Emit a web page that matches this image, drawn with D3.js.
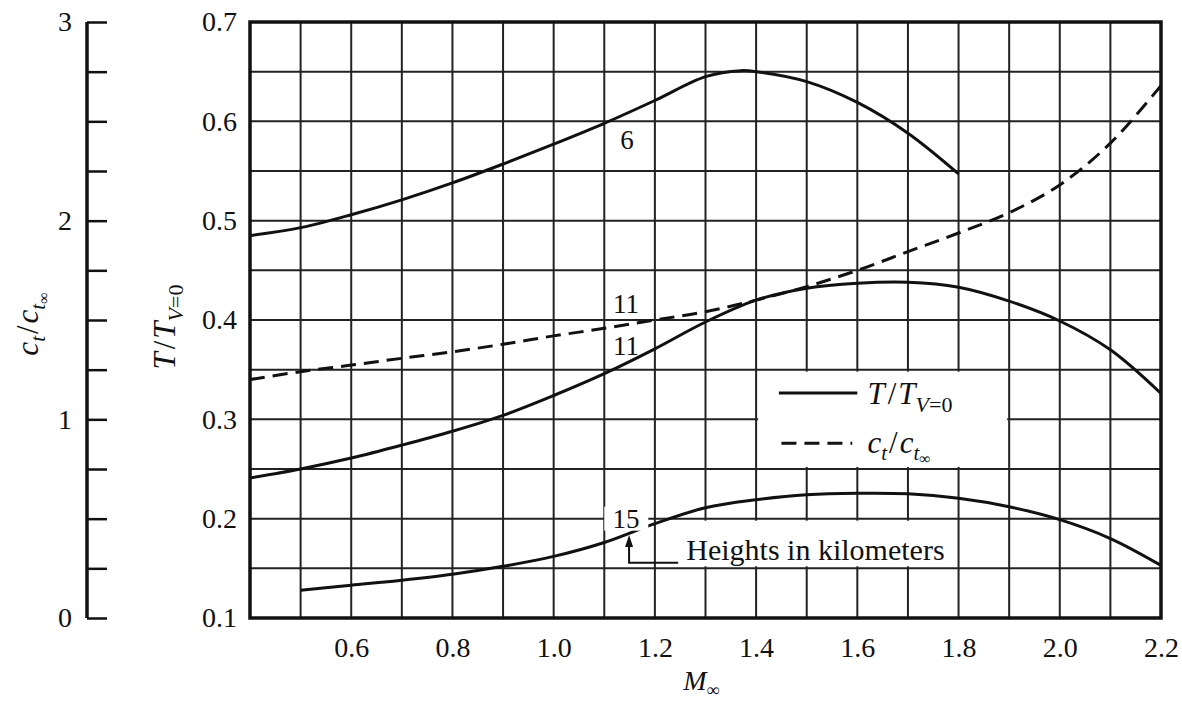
<!DOCTYPE html>
<html>
<head>
<meta charset="utf-8">
<script src="https://cdn.jsdelivr.net/npm/d3@7"></script>
<style>
  body { margin: 0; background: #fff; }
  text { font-family: "Liberation Serif", "Times New Roman", serif; fill: #111; }
</style>
</head>
<body>
<svg id="chart" width="1182" height="703"></svg>
<script>
// Mach numbers and curves
const machAll = [0.4, 0.5, 0.6, 0.7, 0.8, 0.9, 1.0, 1.1, 1.2, 1.3, 1.4, 1.5, 1.6, 1.7, 1.8, 1.9, 2.0, 2.1, 2.2];

// height 6 km, T/T_V=0
const mach6 = [0.4, 0.5, 0.6, 0.7, 0.8, 0.9, 1.0, 1.1, 1.2, 1.3, 1.37, 1.4, 1.5, 1.6, 1.7, 1.8];
const thrust6 = [0.485, 0.493, 0.506, 0.521, 0.538, 0.557, 0.577, 0.598, 0.621, 0.645, 0.651, 0.65, 0.64, 0.619, 0.588, 0.547];

// height 11 km, T/T_V=0
const thrust11 = [0.241, 0.25, 0.261, 0.274, 0.288, 0.304, 0.324, 0.346, 0.371, 0.398, 0.42, 0.432, 0.437, 0.438, 0.433, 0.419, 0.399, 0.37, 0.326];

// height 11 km, c_t / c_t_inf
const ctRatio11 = [1.2, 1.24, 1.273, 1.307, 1.34, 1.378, 1.42, 1.458, 1.5, 1.542, 1.6, 1.668, 1.75, 1.844, 1.938, 2.04, 2.18, 2.39, 2.68];

// height 15 km, T/T_V=0
const mach15 = [0.5, 0.6, 0.7, 0.8, 0.9, 1.0, 1.1, 1.2, 1.3, 1.4, 1.5, 1.6, 1.7, 1.8, 1.9, 2.0, 2.1, 2.2];
const thrust15 = [0.128, 0.133, 0.138, 0.144, 0.152, 0.162, 0.176, 0.195, 0.211, 0.219, 0.224, 0.2255, 0.225, 0.2205, 0.212, 0.199, 0.18, 0.153];

// tick labels
const xTicks = [0.6, 0.8, 1.0, 1.2, 1.4, 1.6, 1.8, 2.0, 2.2];
const yTicks = [0.1, 0.2, 0.3, 0.4, 0.5, 0.6, 0.7];
const cTicks = [0, 1, 2, 3];

const svg = d3.select("#chart");
const ink = "#111";

const pLeft = 250, pRight = 1161, pTop = 22, pBottom = 618;

const x = d3.scaleLinear().domain([0.4, 2.2]).range([pLeft, pRight]);
const y = d3.scaleLinear().domain([0.1, 0.7]).range([pBottom, pTop]);
const c = d3.scaleLinear().domain([0, 3]).range([pBottom, pTop]);

svg.append("rect").attr("width", 1182).attr("height", 703).attr("fill", "#fff");

// grid
const grid = svg.append("g").attr("stroke", "#222").attr("stroke-width", 2);
grid.selectAll(".vg")
  .data(d3.range(5, 22).map(d => d / 10))
  .enter().append("line")
  .attr("x1", d => x(d)).attr("x2", d => x(d))
  .attr("y1", pTop).attr("y2", pBottom);
grid.selectAll(".hg")
  .data(d3.range(3, 14).map(d => d / 20))
  .enter().append("line")
  .attr("x1", pLeft).attr("x2", pRight)
  .attr("y1", d => y(d)).attr("y2", d => y(d));

// white panels: legend and annotation text
svg.append("rect")
  .attr("x", x(1.4) + 2).attr("y", y(0.35) + 2)
  .attr("width", x(1.9) - x(1.4) - 4).attr("height", y(0.25) - y(0.35) - 4)
  .attr("fill", "#fff");
svg.append("rect")
  .attr("x", x(1.255)).attr("y", y(0.2) + 2)
  .attr("width", x(1.79) - x(1.255)).attr("height", y(0.15) - y(0.2) - 4)
  .attr("fill", "#fff");

// frame
svg.append("rect")
  .attr("x", pLeft).attr("y", pTop)
  .attr("width", pRight - pLeft).attr("height", pBottom - pTop)
  .attr("fill", "none").attr("stroke", ink).attr("stroke-width", 3.5);

// axes
svg.append("g")
  .attr("transform", `translate(${pLeft},0)`)
  .call(d3.axisLeft(y).tickValues(yTicks).tickSize(0).tickPadding(13).tickFormat(d3.format(".1f")))
  .call(g => g.select(".domain").remove())
  .selectAll("text").attr("font-size", 28);

svg.append("g")
  .attr("transform", `translate(0,${pBottom})`)
  .call(d3.axisBottom(x).tickValues(xTicks).tickSize(0).tickPadding(19).tickFormat(d3.format(".1f")))
  .call(g => g.select(".domain").remove())
  .selectAll("text").attr("font-size", 28);

// separate c_t axis on the left
const cx = 87;
svg.append("g")
  .attr("transform", `translate(${cx},0)`)
  .call(d3.axisRight(c).tickValues(d3.range(0, 13).map(d => d / 4)).tickSize(20).tickFormat(""))
  .call(g => g.select(".domain").remove())
  .selectAll("line").attr("stroke", ink).attr("stroke-width", 2.5);
svg.append("line")
  .attr("x1", cx).attr("x2", cx).attr("y1", c(0)).attr("y2", c(3))
  .attr("stroke", ink).attr("stroke-width", 3.5);
svg.append("g")
  .attr("transform", `translate(${cx},0)`)
  .call(d3.axisLeft(c).tickValues(cTicks).tickSize(0).tickPadding(15).tickFormat(d3.format("d")))
  .call(g => g.select(".domain").remove())
  .selectAll("text").attr("font-size", 28);

// curves
const tLine = d3.line().x(d => x(d[0])).y(d => y(d[1])).curve(d3.curveCatmullRom.alpha(0.5));
const cLine = d3.line().x(d => x(d[0])).y(d => c(d[1])).curve(d3.curveCatmullRom.alpha(0.5));

const solid = [
  d3.zip(mach6, thrust6),
  d3.zip(machAll, thrust11),
  d3.zip(mach15, thrust15)
];
svg.selectAll(".curve")
  .data(solid)
  .enter().append("path")
  .attr("d", tLine)
  .attr("fill", "none").attr("stroke", ink).attr("stroke-width", 3);

svg.append("path")
  .datum(d3.zip(machAll, ctRatio11))
  .attr("d", cLine)
  .attr("fill", "none").attr("stroke", ink).attr("stroke-width", 3)
  .attr("stroke-dasharray", "15,8");

// height labels
function label(txt, m, t) {
  svg.append("text").attr("x", x(m)).attr("y", y(t))
    .attr("text-anchor", "middle").attr("dominant-baseline", "central")
    .attr("font-size", 27).text(txt);
}
label("6", 1.145, 0.581);
label("11", 1.143, 0.416);
label("11", 1.143, 0.374);
svg.append("rect")
  .attr("x", x(1.1)).attr("y", y(0.2) - 12)
  .attr("width", x(1.187) - x(1.1)).attr("height", 24).attr("fill", "#fff");
label("15", 1.143, 0.2);

// arrow to the 15 km curve
svg.append("path")
  .attr("d", `M${x(1.246)},${y(0.1555)} H${x(1.149)} V${y(0.176)}`)
  .attr("fill", "none").attr("stroke", ink).attr("stroke-width", 2);
svg.append("path")
  .attr("d", `M${x(1.149)},${y(0.1835)} l-4,12 h8 z`)
  .attr("fill", ink);
svg.append("text")
  .attr("x", x(1.262)).attr("y", y(0.1685))
  .attr("dominant-baseline", "central")
  .attr("font-size", 30).text("Heights in kilometers");

// legend
const lg = svg.append("g");
lg.append("line")
  .attr("x1", x(1.445)).attr("x2", x(1.6)).attr("y1", y(0.3265)).attr("y2", y(0.3265))
  .attr("stroke", ink).attr("stroke-width", 3);
lg.append("line")
  .attr("x1", x(1.45)).attr("x2", x(1.59)).attr("y1", y(0.276)).attr("y2", y(0.276))
  .attr("stroke", ink).attr("stroke-width", 3).attr("stroke-dasharray", "15,8");

function ttext(sel) {
  sel.append("tspan").attr("font-style", "italic").text("T");
  sel.append("tspan").attr("dx", 3).text("/");
  sel.append("tspan").attr("font-style", "italic").attr("dx", 2).text("T");
  sel.append("tspan").attr("font-size", 22).attr("dy", 8).attr("font-style", "italic").text("V");
  sel.append("tspan").attr("font-size", 22).text("=0");
}
function ctext(sel) {
  sel.append("tspan").attr("font-style", "italic").text("c");
  sel.append("tspan").attr("font-style", "italic").attr("font-size", 21).attr("dy", 7).text("t");
  sel.append("tspan").attr("dy", -7).attr("dx", 2).text("/");
  sel.append("tspan").attr("font-style", "italic").attr("dx", 2).text("c");
  sel.append("tspan").attr("font-style", "italic").attr("font-size", 21).attr("dy", 7).text("t");
  sel.append("tspan").attr("font-size", 16).attr("dy", 4).text("∞");
}

ttext(lg.append("text").attr("x", x(1.62)).attr("y", y(0.315)).attr("font-size", 31));
ctext(lg.append("text").attr("x", x(1.62)).attr("y", y(0.266)).attr("font-size", 31));

// axis titles
const mx = svg.append("text").attr("x", x(1.256)).attr("y", 690).attr("font-size", 28);
mx.append("tspan").attr("font-style", "italic").text("M");
mx.append("tspan").attr("font-size", 18).attr("dy", 6).text("∞");

ttext(svg.append("text")
  .attr("transform", "translate(175,327) rotate(-90)")
  .attr("text-anchor", "middle").attr("font-size", 31));

ctext(svg.append("text")
  .attr("transform", "translate(38,324) rotate(-90)")
  .attr("text-anchor", "middle").attr("font-size", 31));
</script>
</body>
</html>
